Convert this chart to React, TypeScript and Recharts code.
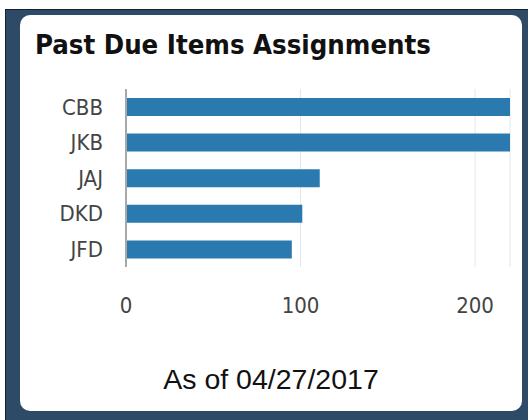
import { Bar, BarChart, CartesianGrid, XAxis, YAxis } from "recharts";

const owners = ["CBB", "JKB", "JAJ", "DKD", "JFD"];
const pastDue = [220, 220, 111, 101, 95];
const xTicks = [0, 100, 200];

const rows = owners.map((owner, i) => ({ owner, count: pastDue[i] }));

const tickStyle = {
  fill: "#444",
  fontSize: 22,
  fontFamily: "'DejaVu Sans Condensed', 'DejaVu Sans', sans-serif",
};

export default function App() {
  return (
    <div
      style={{
        position: "fixed",
        left: 0,
        top: 0,
        width: 528,
        height: 420,
        background: "#fff",
        overflow: "hidden",
      }}
    >
      <div
        style={{
          position: "absolute",
          left: 5,
          top: 9,
          width: 523,
          height: 411,
          background: "#2d4b66",
          borderLeft: "1px solid #15222e",
          borderTop: "1px solid #15222e",
          boxSizing: "border-box",
        }}
      />
      <div
        style={{
          position: "absolute",
          left: 20,
          top: 15,
          width: 502,
          height: 396,
          background: "#fff",
          borderRadius: 10,
        }}
      />
      <div
        style={{
          position: "absolute",
          left: 35,
          top: 29,
          fontFamily: "'DejaVu Sans Condensed', 'DejaVu Sans', sans-serif",
          fontWeight: "bold",
          fontSize: 27.3,
          lineHeight: "32px",
          color: "#111",
          whiteSpace: "nowrap",
        }}
      >
        Past Due Items Assignments
      </div>
      <div style={{ position: "absolute", left: 0, top: 0 }}>
        <BarChart
          width={528}
          height={420}
          data={rows}
          layout="vertical"
          margin={{ top: 89, right: 18, bottom: 123, left: 26 }}
        >
          <CartesianGrid horizontal={false} stroke="#e2e7ee" />
          <XAxis
            type="number"
            domain={[0, 220]}
            ticks={xTicks}
            allowDataOverflow
            axisLine={false}
            tickLine={false}
            tickSize={6}
            tickMargin={24}
            height={30}
            tick={tickStyle}
          />
          <YAxis
            type="category"
            dataKey="owner"
            width={100}
            axisLine={{ stroke: "#a8a8a8", strokeWidth: 2 }}
            tickLine={false}
            tickSize={6}
            tickMargin={17}
            tick={tickStyle}
          />
          <Bar dataKey="count" fill="#2a7ab0" barSize={18} isAnimationActive={false} />
        </BarChart>
      </div>
      <div
        style={{
          position: "absolute",
          left: 20,
          width: 502,
          top: 362,
          textAlign: "center",
          fontFamily: "'Liberation Sans', Arial, sans-serif",
          fontSize: 28.5,
          lineHeight: "34px",
          color: "#111",
        }}
      >
        As of 04/27/2017
      </div>
    </div>
  );
}
